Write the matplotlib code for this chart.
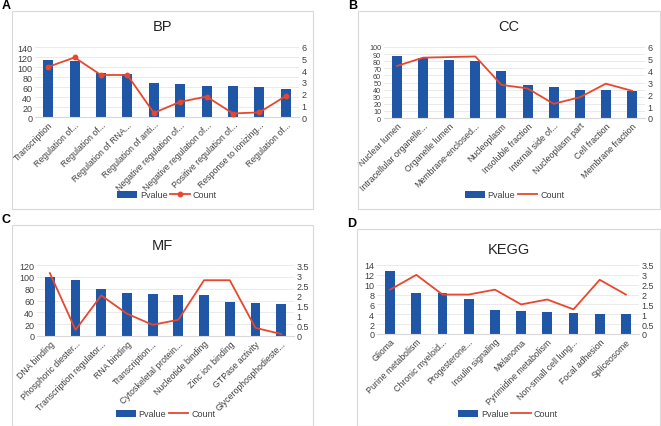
import numpy as np
import matplotlib
matplotlib.use("Agg")
from matplotlib import pyplot as plt
from matplotlib.patches import Rectangle

plt.rcParams['font.family'] = ['Liberation Sans', 'DejaVu Sans']

bp_terms = ["Transcription", "Regulation of...", "Regulation of...", "Regulation of RNA...",
            "Regulation of anti...", "Negative regulation of...", "Negative regulation of...",
            "Positive regulation of...", "Response to ionizing...", "Regulation of..."]
bp_pvalue = [114, 112, 89, 87, 69, 66, 63, 62, 60, 56]
bp_count = [4.3, 5.1, 3.6, 3.6, 0.35, 1.3, 1.75, 0.3, 0.4, 1.8]

cc_terms = ["Nuclear lumen", "Intracellular organelle...", "Organelle lumen", "Membrane-enclosed...",
            "Nucleoplasm", "Insoluble fraction", "Internal side of...", "Nucleoplasm part",
            "Cell fraction", "Membrane fraction"]
cc_pvalue = [88, 84, 81, 80, 66, 46, 43, 40, 39, 38]
cc_count = [4.4, 5.1, 5.15, 5.2, 2.8, 2.5, 1.2, 1.75, 2.9, 2.3]

mf_terms = ["DNA binding", "Phosphoric diester...", "Transcription regulator...", "RNA binding",
            "Transcription...", "Cytoskeletal protein...", "Nucleotide binding", "Zinc ion binding",
            "GTPase activity", "Glycerophosphodieste..."]
mf_pvalue = [100, 95, 80, 72, 71, 70, 69, 58, 56, 54]
mf_count = [3.1, 0.3, 2.0, 1.1, 0.55, 0.8, 2.75, 2.75, 0.4, 0.1]

kegg_terms = ["Glioma", "Purine metabolism", "Chronic myeloid...", "Progesterone...",
              "Insulin signaling", "Melanoma", "Pyrimidine metabolism", "Non-small cell lung...",
              "Focal adhesion", "Spliceosome"]
kegg_pvalue = [12.7, 8.4, 8.3, 7.1, 4.9, 4.6, 4.5, 4.3, 4.1, 4.1]
kegg_count = [2.25, 3.0, 2.0, 2.0, 2.25, 1.5, 1.75, 1.25, 2.75, 2.0]

BLUE = "#1F56A6"
RED = "#E8472E"
W, H = 661.0, 427.0

fig = plt.figure(figsize=(6.61, 4.27), dpi=100)


def panel(letter, title, terms, pv, cnt, box, ax_rect, lylim, lticks, rylim, rticks, title_y, leg_y,
          markers, lsize=6.5):
    # box: (x0, y0, x1, y1) in pixels from top-left
    bx0, by0, bx1, by1 = box
    fig.patches.append(Rectangle((bx0 / W, 1 - by1 / H), (bx1 - bx0) / W, (by1 - by0) / H,
                                 transform=fig.transFigure, fill=False, edgecolor="#D9D9D9", lw=0.8))
    fig.text((bx0 - 10) / W, 1 - (by0 - 6) / H, letter, fontsize=9, fontweight="bold", va="center", ha="left")
    ax0, ay0, ax1, ay1 = ax_rect
    ax = fig.add_axes([ax0 / W, 1 - ay1 / H, (ax1 - ax0) / W, (ay1 - ay0) / H])
    x = np.arange(len(terms))
    ax.bar(x, pv, width=0.38, color=BLUE, label="Pvalue", zorder=2)
    ax.set_ylim(*lylim)
    ax.set_yticks(lticks)
    ax.set_xlim(-0.5, len(terms) - 0.5)
    ax.set_xticks(x)
    ax.set_xticklabels(terms, rotation=45, ha="right", rotation_mode="anchor", fontsize=6.3, color="#404040")
    ax.tick_params(axis="y", labelsize=lsize, length=0, labelcolor="#404040", pad=2)
    ax.tick_params(axis="x", length=0, pad=2)
    ax.grid(axis="y", color="#E6E6E6", lw=0.6, zorder=0)
    for s in ax.spines.values():
        s.set_visible(False)
    ax.spines["bottom"].set_visible(True)
    ax.spines["bottom"].set_color("#D9D9D9")
    ax2 = ax.twinx()
    if markers:
        ax2.plot(x, cnt, color=RED, lw=1.3, marker="o", ms=3.2, label="Count", zorder=3)
    else:
        ax2.plot(x, cnt, color=RED, lw=1.3, label="Count", zorder=3)
    ax2.set_ylim(*rylim)
    ax2.set_yticks(rticks)
    ax2.set_yticklabels([("%g" % t) for t in rticks])
    ax2.tick_params(axis="y", labelsize=6.5, length=0, labelcolor="#404040", pad=2)
    for s in ax2.spines.values():
        s.set_visible(False)
    fig.text((bx0 + bx1) / 2 / W, 1 - title_y / H, title, fontsize=10.5, ha="center", va="center", color="#262626")
    h1, l1 = ax.get_legend_handles_labels()
    h2, l2 = ax2.get_legend_handles_labels()
    fig.legend(h1 + h2, l1 + l2, loc="center", bbox_to_anchor=((ax0 + ax1) / 2 / W, 1 - leg_y / H),
               ncol=2, frameon=False, fontsize=6.5, handlelength=2.2, handletextpad=0.3, columnspacing=0.3,
               labelcolor="#404040")


panel("A", "BP", bp_terms, bp_pvalue, bp_count, (12, 12, 313, 210), (35, 48, 299, 118),
      (0, 140), np.arange(0, 141, 20), (0, 6), np.arange(0, 7, 1), 27, 196, True)
panel("B", "CC", cc_terms, cc_pvalue, cc_count, (358, 12, 660, 210), (384, 48, 645, 119),
      (0, 100), np.arange(0, 101, 10), (0, 6), np.arange(0, 7, 1), 27, 196, False, lsize=5.2)
panel("C", "MF", mf_terms, mf_pvalue, mf_count, (12, 226, 313, 427), (37, 266, 294, 337),
      (0, 120), np.arange(0, 121, 20), (0, 3.5), np.arange(0, 3.6, 0.5), 246, 415, False)
panel("D", "KEGG", kegg_terms, kegg_pvalue, kegg_count, (357, 230, 660, 427), (377, 266, 639, 335),
      (0, 14), np.arange(0, 15, 2), (0, 3.5), np.arange(0, 3.6, 0.5), 250, 415, False)

fig.savefig("out.png", dpi=100)
